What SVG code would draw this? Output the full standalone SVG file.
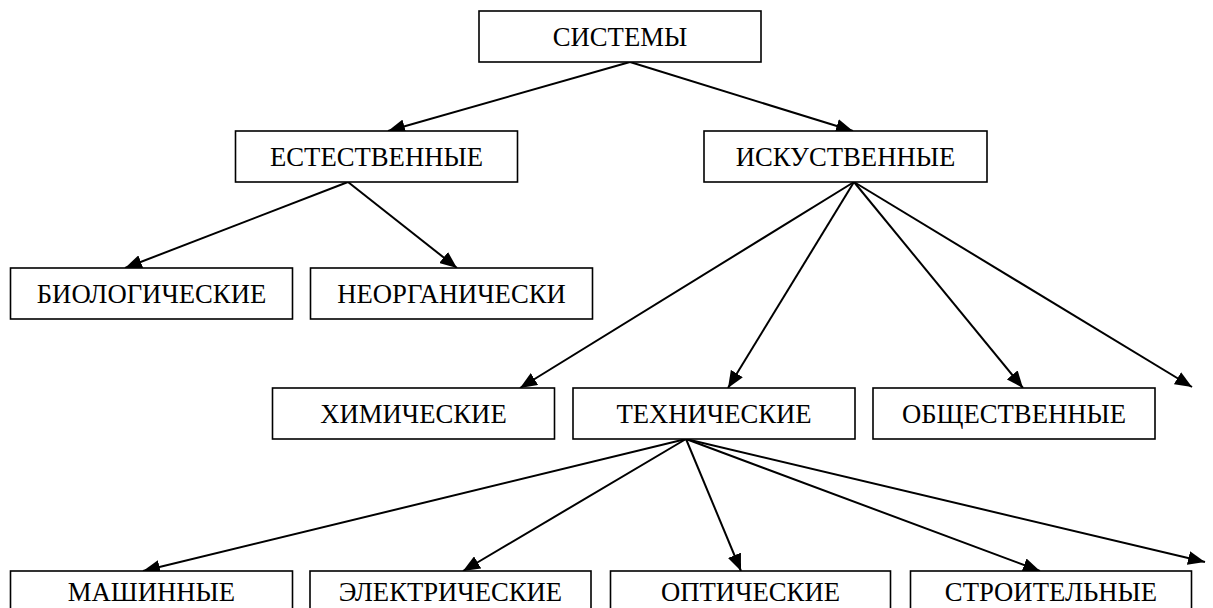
<svg xmlns="http://www.w3.org/2000/svg" width="1213" height="608" viewBox="0 0 1213 608">
<style>
.box{fill:#fff;stroke:#000;stroke-width:1.6}
.lbl{font-family:'Liberation Serif','DejaVu Serif',serif;font-size:26.7px;fill:#000;text-anchor:middle}
.con{stroke:#000;stroke-width:2;fill:none;marker-end:url(#ah)}
</style>
<defs>
<marker id="ah" markerUnits="userSpaceOnUse" markerWidth="18" markerHeight="14" refX="17" refY="7" orient="auto">
<path d="M0,0 L17,7 L0,14 z" fill="#000"/>
</marker>
</defs>
<rect width="1213" height="608" fill="#fff"/>
<g id="connectors">
<line class="con" x1="630" y1="62" x2="388" y2="131"/>
<line class="con" x1="630" y1="62" x2="853" y2="131"/>
<line class="con" x1="348" y1="182" x2="125" y2="268"/>
<line class="con" x1="348" y1="182" x2="457" y2="268"/>
<line class="con" x1="854" y1="182" x2="520" y2="388"/>
<line class="con" x1="854" y1="182" x2="728" y2="388"/>
<line class="con" x1="854" y1="182" x2="1023" y2="388"/>
<line class="con" x1="854" y1="182" x2="1192" y2="387"/>
<line class="con" x1="686" y1="439" x2="143" y2="571"/>
<line class="con" x1="686" y1="439" x2="463" y2="571"/>
<line class="con" x1="686" y1="439" x2="741" y2="571"/>
<line class="con" x1="686" y1="439" x2="1040" y2="571"/>
<line class="con" x1="686" y1="439" x2="1205" y2="562"/>
</g>
<g id="n-sistemy"><rect class="box" x="479" y="11" width="282" height="51"/><text class="lbl" x="620" y="46">СИСТЕМЫ</text></g>
<g id="n-estestvennye"><rect class="box" x="235.5" y="131" width="282" height="51"/><text class="lbl" x="376.5" y="165.5">ЕСТЕСТВЕННЫЕ</text></g>
<g id="n-iskustvennye"><rect class="box" x="704" y="131" width="283" height="51"/><text class="lbl" x="845.5" y="165.5">ИСКУСТВЕННЫЕ</text></g>
<g id="n-biologicheskie"><rect class="box" x="10.5" y="268" width="282" height="51"/><text class="lbl" x="151.5" y="302.5">БИОЛОГИЧЕСКИЕ</text></g>
<g id="n-neorganicheski"><rect class="box" x="310.5" y="268" width="282" height="51"/><text class="lbl" x="451.5" y="302.5">НЕОРГАНИЧЕСКИ</text></g>
<g id="n-himicheskie"><rect class="box" x="272.5" y="388" width="282" height="51"/><text class="lbl" x="413.5" y="422.5">ХИМИЧЕСКИЕ</text></g>
<g id="n-tehnicheskie"><rect class="box" x="573" y="388" width="282" height="51"/><text class="lbl" x="714" y="422.5">ТЕХНИЧЕСКИЕ</text></g>
<g id="n-obshchestvennye"><rect class="box" x="873" y="388" width="282" height="51"/><text class="lbl" x="1014" y="422.5">ОБЩЕСТВЕННЫЕ</text></g>
<g id="n-mashinnye"><rect class="box" x="10.5" y="571" width="282" height="51"/><text class="lbl" x="151.5" y="601">МАШИННЫЕ</text></g>
<g id="n-elektricheskie"><rect class="box" x="310" y="571" width="281" height="51"/><text class="lbl" x="450.5" y="601">ЭЛЕКТРИЧЕСКИЕ</text></g>
<g id="n-opticheskie"><rect class="box" x="610.5" y="571" width="280" height="51"/><text class="lbl" x="750.5" y="601">ОПТИЧЕСКИЕ</text></g>
<g id="n-stroitelnye"><rect class="box" x="910.5" y="571" width="281" height="51"/><text class="lbl" x="1051" y="601">СТРОИТЕЛЬНЫЕ</text></g>
</svg>
